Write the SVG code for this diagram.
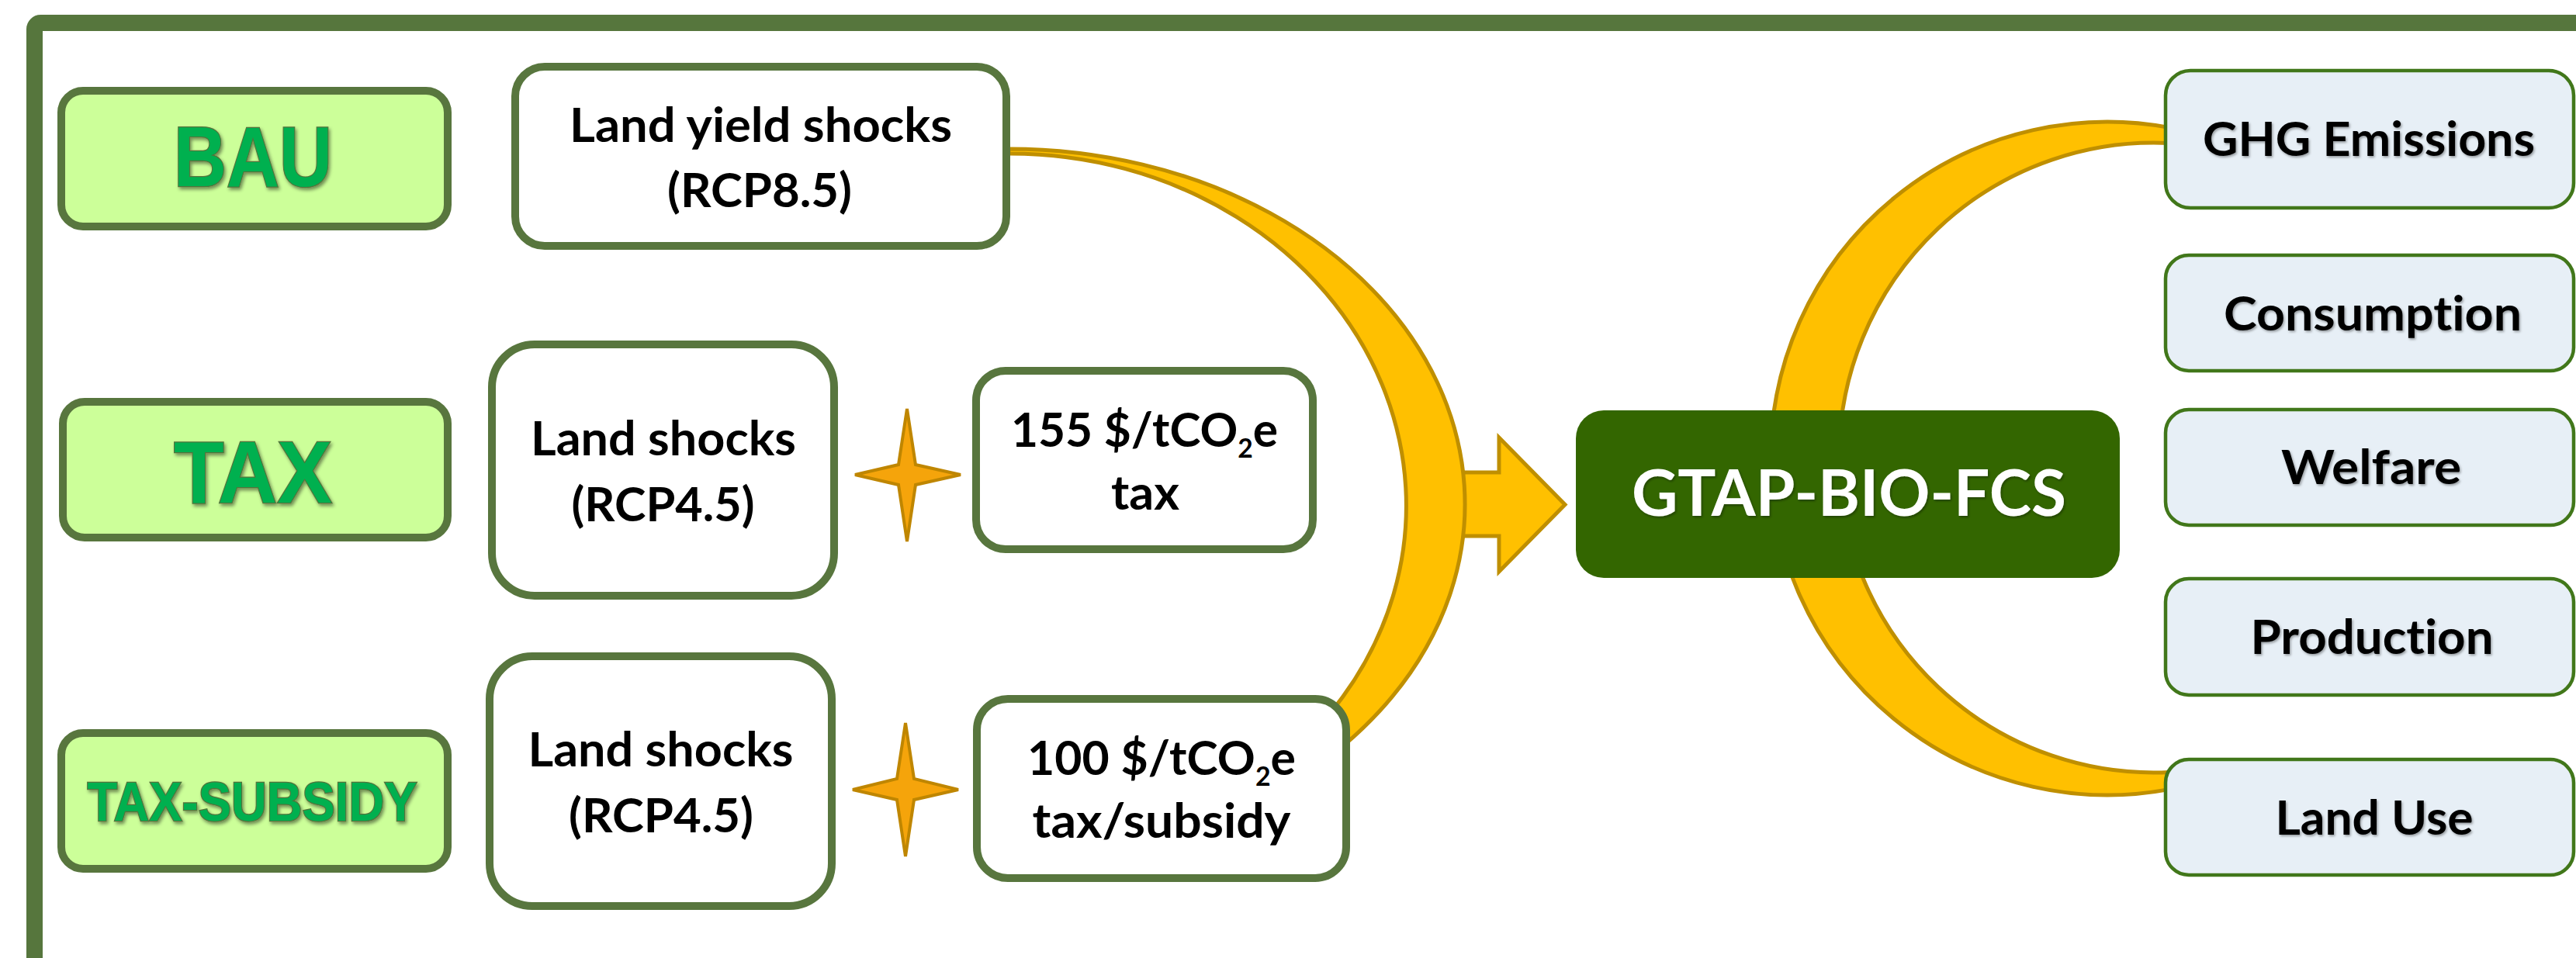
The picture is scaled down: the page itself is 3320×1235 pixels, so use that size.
<svg xmlns="http://www.w3.org/2000/svg" width="3320" height="1235" viewBox="0 0 3320 1235">
<defs>
<filter id="sh" x="-10%" y="-30%" width="120%" height="160%"><feDropShadow dx="2" dy="3" stdDeviation="2" flood-color="#000" flood-opacity="0.45"/></filter>
<filter id="shs" x="-10%" y="-30%" width="120%" height="160%"><feDropShadow dx="1.5" dy="2" stdDeviation="1.5" flood-color="#000" flood-opacity="0.35"/></filter>
<style>
.frame{fill:none;stroke:#56763D;stroke-width:21}
.lab{fill:#CCFF99;stroke:#58763E;stroke-width:10}
.box{fill:#FFFFFF;stroke:#58763E;stroke-width:10}
.out{fill:#E7EFF6;stroke:#41771A;stroke-width:4.5}
.core{fill:#336600}
.gold{fill:#FFC000;stroke:#BF8F00;stroke-width:5;stroke-linejoin:miter}
.star{fill:#F5A40B;stroke:#BF8600;stroke-width:4;stroke-linejoin:miter}
.lt{font-family:"Liberation Sans",Arial,sans-serif;font-weight:700;fill:#00B050;stroke:#55723A;stroke-width:2.5;text-anchor:middle;paint-order:stroke}
.t{font-family:Lato,"Open Sans",sans-serif;font-weight:700;font-size:61px;fill:#000;text-anchor:middle;font-variant-ligatures:none}
.g{font-family:Lato,"Open Sans",sans-serif;font-weight:700;font-size:83px;fill:#FFFFFF;text-anchor:middle}
</style>
</defs>
<rect class="frame" x="44.5" y="29.5" width="3400" height="1400" rx="8"/>
<g id="connectors">
<path class="gold" d="M1860 609 L1932 609 L1932 564 L2017 650.5 L1932 737 L1932 691 L1860 691 Z"/>
<path class="gold" d="M1300 192 A588 458 0 0 1 1679.3 1000 L1629.6 1000 A511 454 0 0 0 1300 198 Z"/>
<path class="gold" d="M2800 165.2 A434 434 0 1 0 2800 1016.8 L2800 995.3 A406 406 0 1 1 2800 184.7 Z"/>
</g>
<g id="bau">
<rect class="lab" x="79" y="117" width="498" height="175" rx="28"/>
<text class="lt" x="326" y="240" font-size="109" textLength="204" lengthAdjust="spacingAndGlyphs" filter="url(#sh)">BAU</text>
</g>
<g id="tax">
<rect class="lab" x="81" y="518" width="496" height="175" rx="28"/>
<text class="lt" x="326" y="648" font-size="113" textLength="204" lengthAdjust="spacingAndGlyphs" filter="url(#sh)">TAX</text>
</g>
<g id="tax-subsidy">
<rect class="lab" x="79" y="945" width="498" height="175" rx="28"/>
<text class="lt" x="325" y="1058" font-size="71" textLength="425" lengthAdjust="spacingAndGlyphs" filter="url(#sh)">TAX-SUBSIDY</text>
</g>
<g id="land-yield-shocks">
<rect class="box" x="664" y="86" width="633" height="231" rx="38"/>
<text class="t" x="980.5" y="183" textLength="493" lengthAdjust="spacingAndGlyphs">Land yield shocks</text>
<text class="t" x="979" y="267" textLength="238" lengthAdjust="spacingAndGlyphs">(RCP8.5)</text>
</g>
<g id="land-shocks-tax">
<rect class="box" x="634" y="444" width="441" height="324" rx="55"/>
<text class="t" x="855" y="587" textLength="342" lengthAdjust="spacingAndGlyphs">Land shocks</text>
<text class="t" x="854.5" y="672" textLength="236" lengthAdjust="spacingAndGlyphs">(RCP4.5)</text>
</g>
<g id="land-shocks-subsidy">
<rect class="box" x="631" y="846" width="441" height="322" rx="55"/>
<text class="t" x="851.5" y="988" textLength="342" lengthAdjust="spacingAndGlyphs">Land shocks</text>
<text class="t" x="852" y="1073" textLength="238" lengthAdjust="spacingAndGlyphs">(RCP4.5)</text>
</g>
<g id="plus-tax">
<path class="star" d="M1169 527 L1180 599 L1238 612 L1180 625 L1169 698 L1158 625 L1102 612 L1158 599 Z"/>
</g>
<g id="plus-subsidy">
<path class="star" d="M1167 932 L1178 1004 L1235 1018 L1178 1031 L1167 1104 L1156 1031 L1099 1018 L1156 1004 Z"/>
</g>
<g id="tax-155">
<rect class="box" x="1258" y="478" width="434" height="230" rx="38"/>
<text class="t" x="1475" y="576" textLength="344" lengthAdjust="spacingAndGlyphs">155 $/tCO<tspan font-size="34" dy="14">2</tspan><tspan dy="-14">e</tspan></text>
<text class="t" x="1476" y="657" textLength="88" lengthAdjust="spacingAndGlyphs">tax</text>
</g>
<g id="tax-100">
<rect class="box" x="1259" y="901" width="476" height="231" rx="40"/>
<text class="t" x="1497" y="999" textLength="346" lengthAdjust="spacingAndGlyphs">100 $/tCO<tspan font-size="34" dy="14">2</tspan><tspan dy="-14">e</tspan></text>
<text class="t" x="1497" y="1080" textLength="333" lengthAdjust="spacingAndGlyphs">tax/subsidy</text>
</g>
<g id="gtap-bio-fcs">
<rect class="core" x="2031" y="529" width="701" height="216" rx="36"/>
<text class="g" x="2383" y="665" textLength="560" lengthAdjust="spacingAndGlyphs" filter="url(#shs)">GTAP-BIO-FCS</text>
</g>
<g id="ghg-emissions">
<rect class="out" x="2791" y="91" width="526" height="177" rx="32"/>
<text class="t" x="3053" y="201" textLength="428" lengthAdjust="spacingAndGlyphs" filter="url(#shs)">GHG Emissions</text>
</g>
<g id="consumption">
<rect class="out" x="2791" y="329" width="526" height="149" rx="30"/>
<text class="t" x="3058" y="426" textLength="384" lengthAdjust="spacingAndGlyphs" filter="url(#shs)">Consumption</text>
</g>
<g id="welfare">
<rect class="out" x="2791" y="528" width="526" height="149" rx="30"/>
<text class="t" x="3056" y="624" textLength="232" lengthAdjust="spacingAndGlyphs" filter="url(#shs)">Welfare</text>
</g>
<g id="production">
<rect class="out" x="2791" y="746" width="526" height="150" rx="30"/>
<text class="t" x="3057" y="843" textLength="313" lengthAdjust="spacingAndGlyphs" filter="url(#shs)">Production</text>
</g>
<g id="land-use">
<rect class="out" x="2791" y="979" width="526" height="149" rx="30"/>
<text class="t" x="3060" y="1076" textLength="255" lengthAdjust="spacingAndGlyphs" filter="url(#shs)">Land Use</text>
</g>
</svg>
